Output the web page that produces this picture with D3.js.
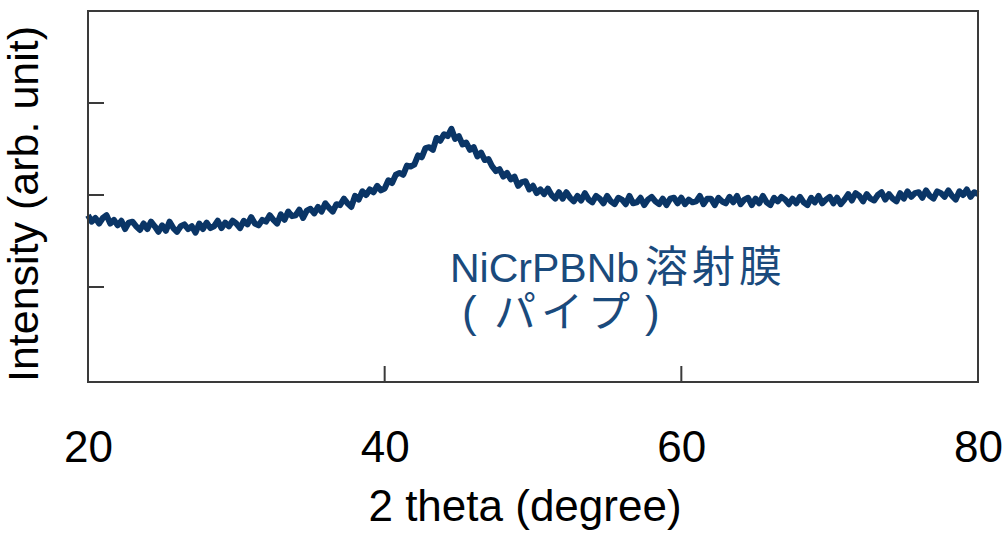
<!DOCTYPE html>
<html>
<head>
<meta charset="utf-8">
<script src="https://cdn.jsdelivr.net/npm/d3@7"></script>
<style>
  body { margin: 0; background: #fff; }
  svg { display: block; }
</style>
</head>
<body>
<div id="chart"></div>
<script>
// 2theta range and sampling step (degrees)
const thetaStart = 20;
const thetaStep = 0.25;

// intensity, 4 samples per degree (arb. counts)
const intensity = [
  178, 171, 175, 169,  // 20
  175, 178, 169, 173,  // 21
  167, 172, 163, 170,  // 22
  171, 166, 162, 169,  // 23
  163, 171, 166, 160,  // 24
  167, 161, 171, 164,  // 25
  160, 166, 168, 163,  // 26
  166, 159, 169, 163,  // 27
  170, 164, 166, 172,  // 28
  164, 170, 166, 172,  // 29
  169, 164, 172, 168,  // 30
  176, 169, 167, 173,  // 31
  171, 178, 173, 169,  // 32
  179, 173, 182, 177,  // 33
  178, 184, 175, 183,  // 34
  185, 180, 187, 182,  // 35
  191, 186, 182, 190,  // 36
  189, 196, 191, 187,  // 37
  199, 195, 204, 200,  // 38
  206, 203, 210, 205,  // 39
  207, 216, 213, 222,  // 40
  224, 222, 232, 231,  // 41
  233, 243, 241, 251,  // 42
  252, 249, 262, 259,  // 43
  266, 264, 272, 261,  // 44
  264, 255, 257, 249,  // 45
  252, 242, 246, 238,  // 46
  239, 231, 226, 228,  // 47
  220, 224, 217, 220,  // 48
  210, 214, 215, 206,  // 49
  210, 202, 206, 201,  // 50
  207, 200, 196, 203,  // 51
  196, 203, 197, 193,  // 52
  199, 194, 202, 195,  // 53
  192, 199, 196, 191,  // 54
  199, 193, 190, 197,  // 55
  195, 190, 199, 191,  // 56
  192, 197, 189, 195,  // 57
  198, 193, 190, 196,  // 58
  189, 196, 197, 191,  // 59
  197, 190, 195, 192,  // 60
  193, 199, 190, 196,  // 61
  196, 189, 197, 193,  // 62
  191, 198, 192, 199,  // 63
  190, 195, 197, 189,  // 64
  196, 191, 199, 192,  // 65
  189, 197, 193, 198,  // 66
  195, 190, 196, 191,  // 67
  198, 192, 189, 197,  // 68
  192, 199, 191, 195,  // 69
  198, 191, 197, 190,  // 70
  195, 201, 194, 202,  // 71
  199, 193, 201, 196,  // 72
  194, 200, 203, 195,  // 73
  201, 196, 193, 202,  // 74
  196, 204, 198, 202,  // 75
  203, 197, 205, 199,  // 76
  196, 204, 202, 198,  // 77
  205, 199, 195, 204,  // 78
  200, 206, 198, 203,  // 79
  201                  // 80
];

const xTicks = [20, 40, 60, 80];
const yTicks = [100, 200, 300];
const sampleName = "NiCrPBNb";
const sampleKind = "溶射膜";
const sampleForm = "パイプ";

const width = 1007;
const height = 534;
const margin = { left: 88, right: 29, top: 11, bottom: 152 };

const svg = d3.select("#chart")
    .append("svg")
    .attr("width", width)
    .attr("height", height);

const x = d3.scaleLinear()
    .domain([20, 80])
    .range([margin.left, width - margin.right]);

const y = d3.scaleLinear()
    .domain([0, 400])
    .range([height - margin.bottom - 3, margin.top]);

const data = intensity.map((v, i) => ({ t: thetaStart + i * thetaStep, v: v }));

// pattern line
svg.append("path")
    .datum(data)
    .attr("fill", "none")
    .attr("stroke", "#0a3566")
    .attr("stroke-width", 6)
    .attr("stroke-linejoin", "round")
    .attr("d", d3.line().x(d => x(d.t)).y(d => y(d.v)));

// frame
const bottomY = height - margin.bottom;
svg.append("rect")
    .attr("x", margin.left)
    .attr("y", margin.top)
    .attr("width", width - margin.right - margin.left)
    .attr("height", bottomY - margin.top)
    .attr("fill", "none")
    .attr("stroke", "#3a3a3a")
    .attr("stroke-width", 2);

// inward ticks on the x axis (inner ones only)
svg.selectAll(".xtick")
    .data(xTicks.filter(d => d > 20 && d < 80))
    .enter().append("line")
    .attr("class", "xtick")
    .attr("x1", d => x(d)).attr("x2", d => x(d))
    .attr("y1", bottomY).attr("y2", bottomY - 16)
    .attr("stroke", "#3a3a3a")
    .attr("stroke-width", 2);

// inward ticks on the y axis, no labels
svg.selectAll(".ytick")
    .data(yTicks)
    .enter().append("line")
    .attr("class", "ytick")
    .attr("x1", margin.left).attr("x2", margin.left + 16)
    .attr("y1", d => y(d)).attr("y2", d => y(d))
    .attr("stroke", "#3a3a3a")
    .attr("stroke-width", 2);

// x tick labels
const xAxis = svg.append("g")
    .attr("transform", `translate(0, ${bottomY})`)
    .call(d3.axisBottom(x).tickValues(xTicks).tickSize(0).tickPadding(0));
xAxis.select(".domain").remove();
xAxis.selectAll("text")
    .attr("y", 80)
    .attr("dy", 0)
    .attr("fill", "#000")
    .style("font-family", "Liberation Sans, Arial, sans-serif")
    .style("font-size", "44px");

// axis titles
svg.append("text")
    .attr("x", 525)
    .attr("y", 521)
    .attr("text-anchor", "middle")
    .style("font-family", "Liberation Sans, Arial, sans-serif")
    .style("font-size", "44px")
    .text("2 theta (degree)");

svg.append("text")
    .attr("transform", "translate(38, 204) rotate(-90)")
    .attr("text-anchor", "middle")
    .style("font-family", "Liberation Sans, Arial, sans-serif")
    .style("font-size", "43px")
    .text("Intensity (arb. unit)");

// sample annotation
const note = svg.append("g")
    .attr("fill", "#1a4a7c")
    .style("font-family", "Liberation Sans, Arial, 'Noto Sans CJK JP', sans-serif");

const line1 = note.append("text")
    .attr("x", 450)
    .attr("y", 282)
    .style("font-size", "41px");
line1.append("tspan").text(sampleName);
line1.append("tspan")
    .style("font-family", "'Noto Sans CJK JP', sans-serif")
    .style("font-size", "43px")
    .attr("dx", 6)
    .style("letter-spacing", "4px")
    .text(sampleKind);

const line2 = note.append("text")
    .attr("y", 327)
    .style("font-size", "44px");
line2.append("tspan").attr("x", 462).text("(");
line2.append("tspan")
    .attr("x", 494)
    .style("font-family", "'Noto Sans CJK JP', sans-serif")
    .style("font-size", "42px")
    .style("letter-spacing", "5px")
    .text(sampleForm);
line2.append("tspan").attr("x", 645).text(")");
</script>
</body>
</html>
